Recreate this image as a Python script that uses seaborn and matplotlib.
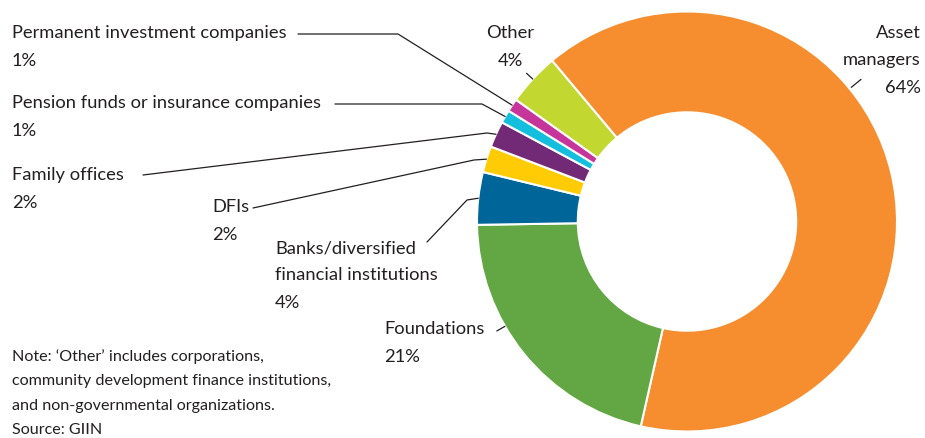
import matplotlib.pyplot as plt
import seaborn as sns
import numpy as np

sns.set_theme(style="white")
plt.rcParams["font.family"] = ["Lato", "DejaVu Sans"]

# data, clockwise from the top-left
investors = ["Asset managers", "Foundations", "Banks/diversified financial institutions",
             "DFIs", "Family offices", "Pension funds or insurance companies",
             "Permanent investment companies", "Other"]
shares = [64, 21, 4, 2, 2, 1, 1, 4]
colors = ["#F68D2E", "#62A744", "#00669A", "#FFCB05", "#722A77", "#14BEDD", "#C5359A", "#C2D730"]

note_lines = ["Note: \u2018Other\u2019 includes corporations,",
              "community development finance institutions,",
              "and non-governmental organizations.",
              "Source: GIIN"]

# label placement (pixels, top-left origin)
layout = {
    "Asset managers": dict(x=921, y=33, ha="right", lines=["Asset", "managers"], frac=0.39, tick=(1.01, 1.07)),
    "Foundations": dict(x=384, y=329, ha="left", lines=["Foundations"], frac=0.62, tick=(1.0, 1.045)),
    "Banks/diversified financial institutions": dict(x=275, y=248, ha="left",
        lines=["Banks/diversified", "financial institutions"], frac=0.5, path=[(427, 242), (467, 200)]),
    "DFIs": dict(x=212, y=207, ha="left", lines=["DFIs"], frac=0.5, path=[(253, 208), (474, 160)]),
    "Family offices": dict(x=12, y=175, ha="left", lines=["Family offices"], frac=0.5, path=[(143, 175), (487, 133)]),
    "Pension funds or insurance companies": dict(x=12, y=103, ha="left",
        lines=["Pension funds or insurance companies"], frac=0.5, path=[(335, 104), (482, 104)]),
    "Permanent investment companies": dict(x=12, y=33, ha="left",
        lines=["Permanent investment companies"], frac=0.5, path=[(298, 34), (398, 34)]),
    "Other": dict(x=510, y=33, ha="center", lines=["Other"], frac=0.5, tick=(1.0, 1.04)),
}

W, H = 925, 438
fig = plt.figure(figsize=(W / 100, H / 100), dpi=100)
fig.patch.set_facecolor("white")

ax = fig.add_axes([477 / W, 6 / H, 420 / W, 421 / H])
wedges, _ = ax.pie(shares, colors=colors, startangle=130, counterclock=False, radius=1,
                   wedgeprops=dict(width=0.48, edgecolor="white", linewidth=1.5))
ax.set_xlim(-1, 1)
ax.set_ylim(-1, 1)
ax.set_aspect("equal")
ax.apply_aspect()

ov = fig.add_axes([0, 0, 1, 1], zorder=5)
ov.set_xlim(0, W)
ov.set_ylim(H, 0)
ov.axis("off")
ov.patch.set_alpha(0)

txt = "#231F20"
fs = 13.2
step = 27.5


def to_px(r, ang):
    a = np.deg2rad(ang)
    d = ax.transData.transform((r * np.cos(a), r * np.sin(a)))
    return ov.transData.inverted().transform(d)


for name, v, w in zip(investors, shares, wedges):
    lay = layout[name]
    lines = lay["lines"] + [f"{v}%"]
    for i, s in enumerate(lines):
        ov.text(lay["x"], lay["y"] + i * step, s, ha=lay["ha"], va="center", fontsize=fs, color=txt)
    ang = w.theta2 - lay["frac"] * (w.theta2 - w.theta1)
    if "tick" in lay:
        p0 = to_px(lay["tick"][0], ang)
        p1 = to_px(lay["tick"][1], ang)
        ov.plot([p0[0], p1[0]], [p0[1], p1[1]], color=txt, lw=0.9)
    else:
        end = to_px(1.0, ang)
        pts = lay["path"] + [tuple(end)]
        ov.plot([p[0] for p in pts], [p[1] for p in pts], color=txt, lw=0.9)

for i, s in enumerate(note_lines):
    ov.text(12, 357 + i * 24.3, s, ha="left", va="center", fontsize=11.6, color=txt)

fig.savefig("out.png", dpi=100)
